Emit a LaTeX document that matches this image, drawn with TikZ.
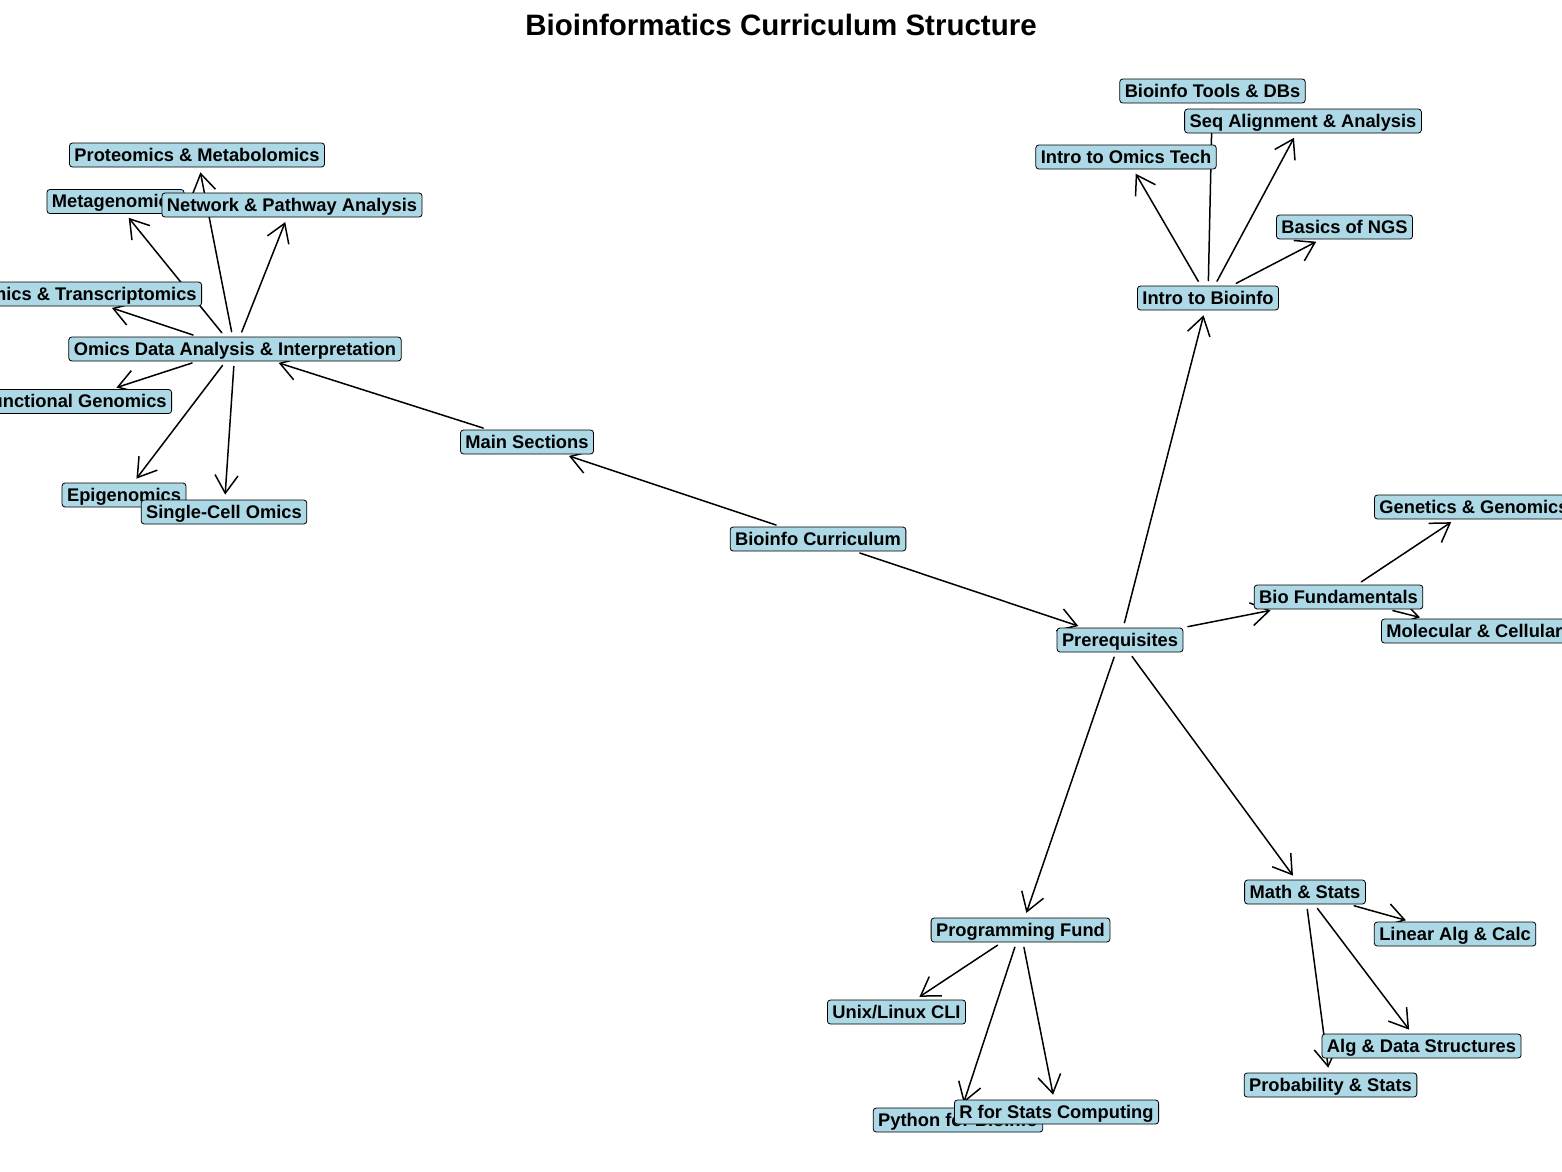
\documentclass[tikz,border=0pt]{standalone}
\usepackage{fontspec}
\setmainfont{Liberation Sans}
\usetikzlibrary{arrows.meta}
\pgfdeclarelayer{paper}
\pgfdeclarelayer{edges}
\pgfsetlayers{paper,edges,main}
\definecolor{nodeblue}{HTML}{ADD8E6}
\tikzset{
  lbl/.style={draw=black, line width=0.8pt, fill=nodeblue, rounded corners=3pt,
    inner xsep=5pt, inner ysep=0pt, minimum height=24pt,
    text height=14.5pt, text depth=2.5pt,
    font=\fontsize{18.3}{20}\selectfont\bfseries},
  link/.style={line width=1.5pt, line cap=round,
    -{Straight Barb[length=18pt,width=23pt,line width=1.5pt]},
    shorten <=5pt, shorten >=5pt},
  ttl/.style={font=\fontsize{29.5}{32}\selectfont\bfseries, inner sep=0pt, anchor=base}
}
\begin{document}
\begin{tikzpicture}[x=1pt,y=-1pt]
\useasboundingbox (0,0) rectangle (1562,1171);
\begin{pgfonlayer}{paper}
\fill[white] (0,0) rectangle (1562,1171);
\end{pgfonlayer}

\node[ttl] (title) at (781,35) {Bioinformatics Curriculum Structure};

% left cluster
\node[lbl] (prot) at (197,155) {Proteomics \& Metabolomics};
\node[lbl] (meta) at (115.5,201.5) {Metagenomics};
\node[lbl] (net) at (292,205) {Network \& Pathway Analysis};
\node[lbl, anchor=east] (gen) at (202,294) {Genomics \& Transcriptomics};
\node[lbl] (omics) at (235,349) {Omics Data Analysis \& Interpretation};
\node[lbl, anchor=east] (func) at (172,401.5) {Functional Genomics};
\node[lbl] (epi) at (124,495) {Epigenomics};
\node[lbl] (sc) at (224,512) {Single-Cell Omics};

% centre
\node[lbl] (main) at (527,442) {Main Sections};
\node[lbl] (cur) at (818,539) {Bioinfo Curriculum};
\node[lbl] (pre) at (1120,640) {Prerequisites};

% intro cluster
\node[lbl] (ib) at (1208,298) {Intro to Bioinfo};
\node[lbl] (tools) at (1212.5,91) {Bioinfo Tools \& DBs};
\node[lbl] (seq) at (1303,121) {Seq Alignment \& Analysis};
\node[lbl] (omt) at (1126,157) {Intro to Omics Tech};
\node[lbl] (ngs) at (1344.5,227) {Basics of NGS};

% bio cluster
\node[lbl, anchor=west] (genet) at (1374,507) {Genetics \& Genomics};
\node[lbl] (bio) at (1338.5,597) {Bio Fundamentals};
\node[lbl, anchor=west] (mol) at (1381,631) {Molecular \& Cellular};

% math cluster
\node[lbl] (math) at (1305,892) {Math \& Stats};
\node[lbl] (lin) at (1455,934) {Linear Alg \& Calc};
\node[lbl] (prob) at (1330.5,1085) {Probability \& Stats};
\node[lbl] (alg) at (1421.5,1046) {Alg \& Data Structures};

% programming cluster
\node[lbl] (prog) at (1020.5,930) {Programming Fund};
\node[lbl] (unix) at (896.5,1012) {Unix/Linux CLI};
\node[lbl] (py) at (958,1120) {Python for Bioinfo};
\node[lbl] (rst) at (1056.5,1112) {R for Stats Computing};

\begin{pgfonlayer}{edges}
\draw[link] (cur) -- (main);
\draw[link] (cur) -- (pre);
\draw[link] (main) -- (omics);
\draw[link] (omics) -- (prot);
\draw[link] (omics) -- (meta);
\draw[link] (omics) -- (net);
\draw[link] (omics) -- (gen);
\draw[link] (omics) -- (func);
\draw[link] (omics) -- (epi);
\draw[link] (omics) -- (sc);
\draw[link] (pre) -- (ib);
\draw[link] (pre) -- (bio);
\draw[link] (pre) -- (prog);
\draw[link] (pre) -- (math);
\draw[link] (ib) -- (omt);
\draw[link] (ib) -- (tools);
\draw[link] (ib) -- (seq);
\draw[link] (ib) -- (ngs);
\draw[link] (bio) -- (genet);
\draw[link] (bio) -- (mol);
\draw[link] (math) -- (lin);
\draw[link] (math) -- (alg);
\draw[link] (math) -- (prob);
\draw[link] (prog) -- (unix);
\draw[link] (prog) -- (py);
\draw[link] (prog) -- (rst);
\end{pgfonlayer}
\end{tikzpicture}
\end{document}
